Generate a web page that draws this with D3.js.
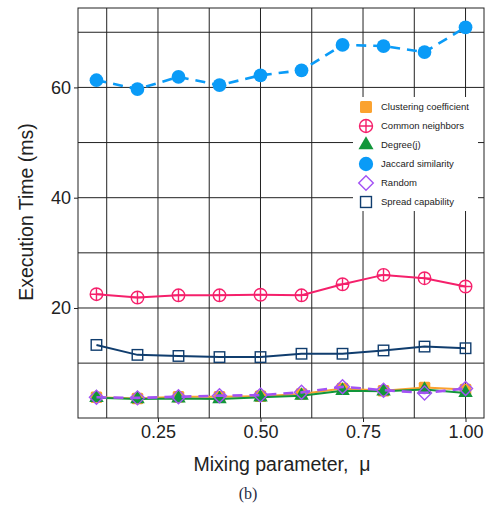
<!DOCTYPE html>
<html>
<head>
<meta charset="utf-8">
<script src="https://cdn.jsdelivr.net/npm/d3@7"></script>
<style>
  body { margin: 0; background: #fff; }
  svg { display: block; font-family: "Liberation Sans", Arial, sans-serif; }
</style>
</head>
<body>
<div id="chart"></div>
<script>
// mixing parameter values on the x axis
const mu = [0.1, 0.2, 0.3, 0.4, 0.5, 0.6, 0.7, 0.8, 0.9, 1.0];

// execution time (ms) per method
const clustering = [3.8, 3.6, 3.9, 3.9, 4.0, 4.4, 5.4, 5.0, 5.6, 5.2];
const common = [22.5, 21.9, 22.3, 22.3, 22.4, 22.3, 24.3, 26.0, 25.4, 23.9];
const degree = [3.7, 3.5, 3.6, 3.5, 3.8, 4.1, 5.0, 4.9, 5.2, 4.6];
const jaccard = [61.3, 59.7, 61.9, 60.4, 62.2, 63.1, 67.7, 67.5, 66.4, 70.9];
const random = [3.8, 3.7, 3.9, 4.1, 4.2, 4.7, 5.7, 5.1, 4.6, 5.4];
const spread = [13.3, 11.5, 11.3, 11.1, 11.1, 11.7, 11.7, 12.3, 13.0, 12.7];

const xTicks = [0.25, 0.5, 0.75, 1.0];
const xMinor = [0.125, 0.375, 0.625, 0.875];
const yTicks = [20, 40, 60];
const yMinor = [10, 30, 50, 70];

const series = [
  {name: 'Clustering coefficient', values: clustering, color: '#FBA22F', shape: 'fsquare', dash: null},
  {name: 'Common neighbors', values: common, color: '#F5206B', shape: 'ocross', dash: null},
  {name: 'Degree(j)', values: degree, color: '#12963A', shape: 'triangle', dash: null},
  {name: 'Jaccard similarity', values: jaccard, color: '#0A9BF7', shape: 'circle', dash: '10,7'},
  {name: 'Random', values: random, color: '#A352F5', shape: 'diamond', dash: '10,7'},
  {name: 'Spread capability', values: spread, color: '#103D6E', shape: 'osquare', dash: null}
];

const W = 488, H = 515;
const panel = {left: 78, right: 484, top: 8, bottom: 418};

const svg = d3.select('#chart').append('svg')
  .attr('width', W).attr('height', H);

const x = d3.scaleLinear().domain([0.055, 1.045]).range([panel.left, panel.right]);
const y = d3.scaleLinear().domain([0.05, 74.4]).range([panel.bottom, panel.top]);

// grid lines, major and minor both black
const grid = svg.append('g');
grid.selectAll('line.vx')
  .data(xMinor.concat(xTicks))
  .enter().append('line')
  .attr('x1', d => x(d)).attr('x2', d => x(d))
  .attr('y1', panel.top).attr('y2', panel.bottom)
  .attr('stroke', '#222').attr('stroke-width', 1);
grid.selectAll('line.hy')
  .data(yMinor.concat(yTicks))
  .enter().append('line')
  .attr('y1', d => y(d)).attr('y2', d => y(d))
  .attr('x1', panel.left).attr('x2', panel.right)
  .attr('stroke', '#222').attr('stroke-width', 1);

// panel border
svg.append('rect')
  .attr('x', panel.left).attr('y', panel.top)
  .attr('width', panel.right - panel.left)
  .attr('height', panel.bottom - panel.top)
  .attr('fill', 'none').attr('stroke', '#222').attr('stroke-width', 1);

// axes
const xAxis = svg.append('g')
  .attr('transform', 'translate(0,' + panel.bottom + ')')
  .call(d3.axisBottom(x).tickValues(xTicks).tickFormat(d3.format('.2f')).tickSize(4).tickPadding(3));
const yAxis = svg.append('g')
  .attr('transform', 'translate(' + panel.left + ',0)')
  .call(d3.axisLeft(y).tickValues(yTicks).tickSize(4).tickPadding(3));
[xAxis, yAxis].forEach(a => {
  a.select('.domain').remove();
  a.selectAll('line').attr('stroke', '#222');
  a.selectAll('text').attr('fill', '#222').style('font-size', '18px')
    .style('font-family', '"Liberation Sans", Arial, sans-serif');
});

// draw one marker of a given shape
function marker(g, shape, color, cx, cy, s) {
  if (shape === 'circle') {
    g.append('circle').attr('cx', cx).attr('cy', cy).attr('r', s * 0.55).attr('fill', color);
  } else if (shape === 'fsquare') {
    g.append('rect').attr('x', cx - s * 0.46).attr('y', cy - s * 0.46)
      .attr('width', s * 0.92).attr('height', s * 0.92).attr('rx', 1.5).attr('fill', color);
  } else if (shape === 'osquare') {
    g.append('rect').attr('x', cx - s * 0.42).attr('y', cy - s * 0.42)
      .attr('width', s * 0.84).attr('height', s * 0.84)
      .attr('fill', 'none').attr('stroke', color).attr('stroke-width', 1.4);
  } else if (shape === 'triangle') {
    g.append('path').attr('transform', 'translate(' + cx + ',' + cy + ')')
      .attr('d', d3.symbol(d3.symbolTriangle, s * s * 0.58)()).attr('fill', color);
  } else if (shape === 'diamond') {
    const r = s * 0.56;
    g.append('path')
      .attr('d', `M${cx},${cy - r}L${cx + r},${cy}L${cx},${cy + r}L${cx - r},${cy}Z`)
      .attr('fill', 'none').attr('stroke', color).attr('stroke-width', 1.4);
  } else if (shape === 'ocross') {
    const r = s * 0.5;
    g.append('circle').attr('cx', cx).attr('cy', cy).attr('r', r)
      .attr('fill', 'none').attr('stroke', color).attr('stroke-width', 1.4);
    g.append('path')
      .attr('d', `M${cx - r},${cy}H${cx + r}M${cx},${cy - r}V${cy + r}`)
      .attr('stroke', color).attr('stroke-width', 1.4);
  }
}

const line = d3.line().x((d, i) => x(mu[i])).y(d => y(d));

// series lines and markers
const plot = svg.append('g');
series.forEach(s => {
  const g = plot.append('g');
  g.append('path')
    .datum(s.values)
    .attr('d', line)
    .attr('fill', 'none')
    .attr('stroke', s.color)
    .attr('stroke-width', s.dash ? 2.6 : 2)
    .attr('stroke-dasharray', s.dash);
  s.values.forEach((v, i) => marker(g, s.shape, s.color, x(mu[i]), y(v), 12.5));
});

// legend
const legend = svg.append('g');
legend.append('rect')
  .attr('x', 353).attr('y', 97).attr('width', 125).attr('height', 114)
  .attr('fill', '#fff');
series.forEach((s, i) => {
  const cy = 107 + i * 19;
  marker(legend, s.shape, s.color, 366, cy, 13);
  legend.append('text')
    .attr('x', 381).attr('y', cy)
    .attr('dy', '0.35em')
    .attr('fill', '#222')
    .style('font-size', '9.5px')
    .text(s.name);
});

// axis titles
svg.append('text')
  .attr('x', 282).attr('y', 471)
  .attr('text-anchor', 'middle')
  .attr('fill', '#222')
  .style('font-size', '19.5px')
  .text('Mixing parameter,\u00a0 μ');

svg.append('text')
  .attr('transform', 'translate(33,' + 212 + ') rotate(-90)')
  .attr('text-anchor', 'middle')
  .attr('fill', '#222')
  .style('font-size', '19.5px')
  .text('Execution Time (ms)');

svg.append('text')
  .attr('x', 248).attr('y', 499)
  .attr('text-anchor', 'middle')
  .attr('fill', '#1f2a44')
  .style('font-family', '"Liberation Serif", "Times New Roman", serif')
  .style('font-size', '16px')
  .text('(b)');
</script>
</body>
</html>
